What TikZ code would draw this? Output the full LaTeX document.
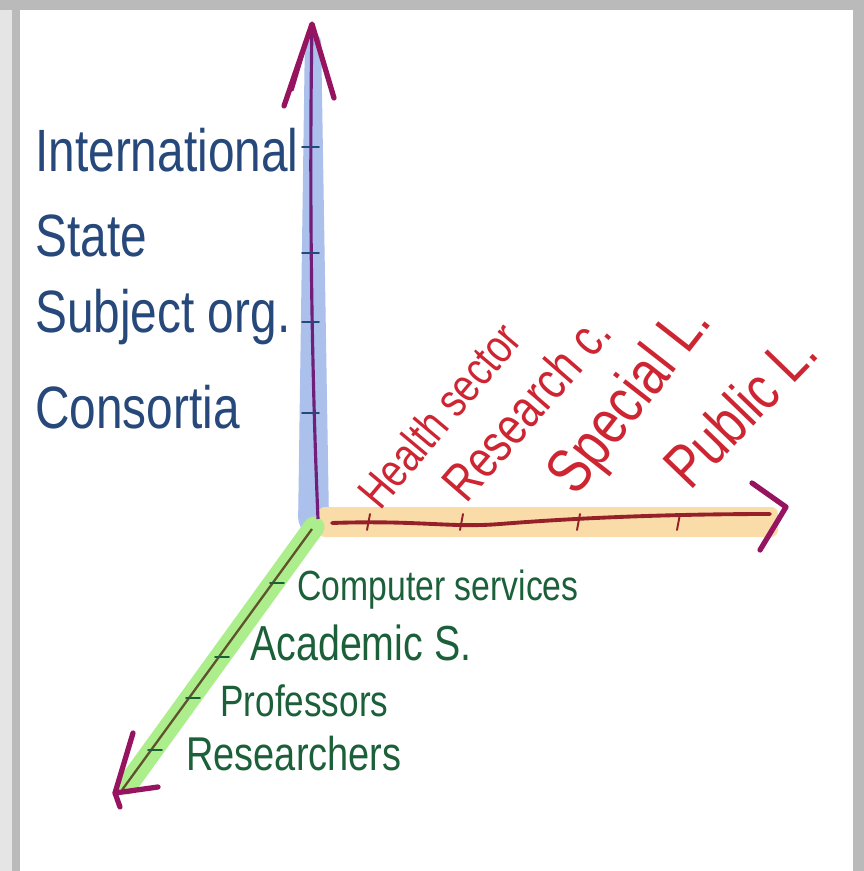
\documentclass[tikz,border=0pt]{standalone}
\usepackage{fontspec}
\newfontfamily\handfont[FakeStretch=0.8]{Liberation Sans}
\usetikzlibrary{calc}
\definecolor{axBlueInk} {RGB}{ 38, 72,122}
\definecolor{axBlueBand}{RGB}{172,192,236}
\definecolor{axPurple}  {RGB}{112, 30,122}
\definecolor{axMagenta} {RGB}{150, 20, 95}
\definecolor{axOrange}  {RGB}{250,220,168}
\definecolor{axRedLine} {RGB}{150, 32, 42}
\definecolor{axRedInk}  {RGB}{205, 38, 50}
\definecolor{axGreenBand}{RGB}{172,238,140}
\definecolor{axOlive}   {RGB}{ 95, 82, 45}
\definecolor{axGreenInk}{RGB}{ 28, 96, 58}

\begin{document}
\begin{tikzpicture}[x=0.02cm,y=-0.02cm,
  lab/.style={inner sep=0,anchor=base west,font=\handfont\fontsize{#1}{#1}\selectfont},
  bluelab/.style={lab=34,color=axBlueInk},
  greenlab/.style={lab=#1,color=axGreenInk},
  redlab/.style={lab=#1,color=axRedInk},
  headstroke/.style={axMagenta,line width=3pt,line cap=round,line join=round},
  tickmark/.style={line width=1.1pt,line cap=round}]
\useasboundingbox (0,0) rectangle (864,871);
% frame
\fill[black!27] (0,0) rectangle (864,871);
\fill[black!10] (0,10) rectangle (12,871);
\fill[white] (20,10) rectangle (853,871);

% axis end points
\coordinate (O)    at (318,519);
\coordinate (ztop) at (312,24);
\coordinate (xend) at (770,514);
\coordinate (yend) at (122,790);

% highlighter bands
\fill[axBlueBand,rounded corners=6] (305,32) -- (321,32) -- (329,522) -- (314,540) -- (298,528) -- cycle;
\fill[axOrange,rounded corners=4] (318,507) rectangle (778,537);
\draw[axGreenBand,line width=12pt,line cap=round] ($(O)+(-4,8)$) -- ($(yend)+(6,-6)$);

% axes
\draw[axPurple,line width=1.8pt] (O) .. controls (312,380) and (309,200) .. (ztop);
\draw[axRedLine,line width=2.2pt,line cap=round] (332,523)
  .. controls (420,520) and (450,528) .. (500,524)
  .. controls (600,516) and (700,514) .. (xend);
\draw[axOlive,line width=1.3pt] ($(O)+(-6,10)$) -- (yend);

% arrow heads
\draw[headstroke] (284,106) -- (ztop) -- (334,98);
\draw[headstroke,line width=2pt] (292,90) -- (308,36);
\draw[headstroke] (752,483) -- (786,507) -- (760,550);
\draw[headstroke] (133,733) -- (115,793) -- (158,787);
\draw[headstroke] (115,793) -- (120,807);

% ticks
\foreach \y in {147,253,322,413}{
  \draw[tickmark,axBlueInk] (302,\y) -- ++(17,0);
}
\foreach \x in {370,463,580,680}{
  \draw[tickmark,axRedLine] (\x,514) -- ++(-3,16);
}
\foreach \x/\y in {277/583,222/657,193/698,155/750}{
  \draw[tickmark,axGreenInk] (\x-7,\y) -- ++(14,0);
}

% vertical axis labels
\node[bluelab] (intl)  at (35,172) {International};
\node[bluelab] (state) at (35,256) {State};
\node[bluelab] (subj)  at (35,332) {Subject org.};
\node[bluelab] (cons)  at (35,428) {Consortia};

% horizontal axis labels
\node[redlab=27,rotate=50] (health)  at (380,512) {Health sector};
\node[redlab=30,rotate=49] (research) at (466,505) {Research c.};
\node[redlab=36,rotate=52] (special) at (576,498) {Special L.};
\node[redlab=35,rotate=46] (public)  at (690,492) {Public L.};

% depth axis labels
\node[greenlab=24] (comp)  at (297,600) {Computer services};
\node[greenlab=28] (acad)  at (250,660) {Academic S.};
\node[greenlab=25] (prof)  at (220,716) {Professors};
\node[greenlab=27] (resch) at (186,770) {Researchers};
\end{tikzpicture}
\end{document}
